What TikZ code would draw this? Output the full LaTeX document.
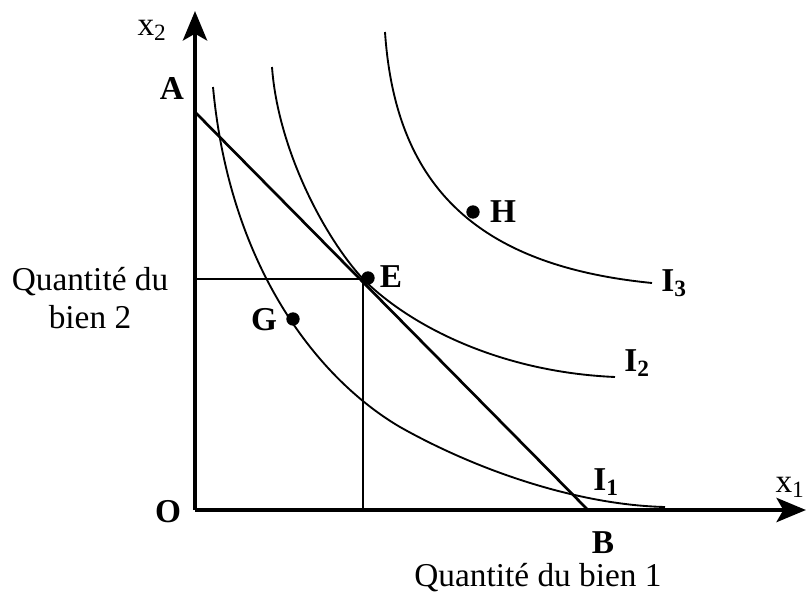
\documentclass[tikz,border=0pt]{standalone}
\usepackage{fontspec}
\setmainfont{Liberation Serif}
\usetikzlibrary{arrows.meta}
\tikzset{
  lbl/.style={inner sep=0.75pt,font=\fontsize{25}{29}\selectfont},
  blbl/.style={inner sep=0.75pt,font=\fontsize{25}{29}\selectfont\bfseries},
  pt/.style={circle,fill=black,inner sep=0pt,minimum size=10pt},
  axis/.style={line width=3.6pt,-{Stealth[length=22pt,width=18pt,inset=5pt]}},
  indiff/.style={line width=1.4pt},
  guide/.style={line width=1pt},
}
\begin{document}
\begin{tikzpicture}[x=0.75pt,y=0.75pt,yscale=-1,xscale=1]
\useasboundingbox (0,0) rectangle (807,593);

%Axes
\coordinate (O) at (195,510);
\coordinate (ytip) at (195,11);
\coordinate (xtip) at (806,510);
\draw [axis] (O) -- (ytip);
\draw [axis] (O) -- (xtip);

%Budget line
\coordinate (A) at (195,112);
\coordinate (B) at (588,510);
\draw [line width=2pt] (A) -- (B);

%Guides to E
\coordinate (Ey) at (195,279);
\coordinate (Ec) at (363,279);
\coordinate (Ex) at (363,510);
\draw [guide] (Ey) -- (Ec) -- (Ex);

%Curve I1
\coordinate (I1s) at (213,87);
\coordinate (I1e) at (665,507);
\draw [indiff] (I1s) .. controls (230,270) and (320,380) .. (400,427) .. controls (480,472) and (580,505) .. (I1e);
%Curve I2
\coordinate (I2s) at (272,67);
\coordinate (I2e) at (615,377);
\draw [indiff] (I2s) .. controls (278,150) and (325,238) .. (Ec) .. controls (410,326) and (500,372) .. (I2e);
%Curve I3
\coordinate (I3s) at (385,32);
\coordinate (I3e) at (652,283);
\draw [indiff] (I3s) .. controls (395,180) and (470,265) .. (I3e);

%Points
\node [pt] (E) at (368,278) {};
\node [pt] (G) at (293,319) {};
\node [pt] (H) at (473,212) {};

% Text Node
\node [lbl] (lx2) at (152,30) {x\textsubscript{2}};
% Text Node
\node [lbl] (lx1) at (790,487) {x\textsubscript{1}};
% Text Node
\node [blbl] (lA) at (172,88) {A};
% Text Node
\node [blbl] (lO) at (168,512) {O};
% Text Node
\node [blbl] (lB) at (603,543) {B};
% Text Node
\node [blbl] (lE) at (391,277) {E};
% Text Node
\node [blbl] (lG) at (264,320) {G};
% Text Node
\node [blbl] (lH) at (503,212) {H};
% Text Node
\node [blbl] (lI1) at (606,482) {I\textsubscript{1}};
% Text Node
\node [blbl] (lI2) at (637,363) {I\textsubscript{2}};
% Text Node
\node [blbl] (lI3) at (674,283) {I\textsubscript{3}};
% Text Node
\node [lbl,align=center] (lq2) at (90,298) {Quantité du\\bien 2};
% Text Node
\node [lbl] (lq1) at (538,578) {Quantité du bien 1};

\end{tikzpicture}
\end{document}
